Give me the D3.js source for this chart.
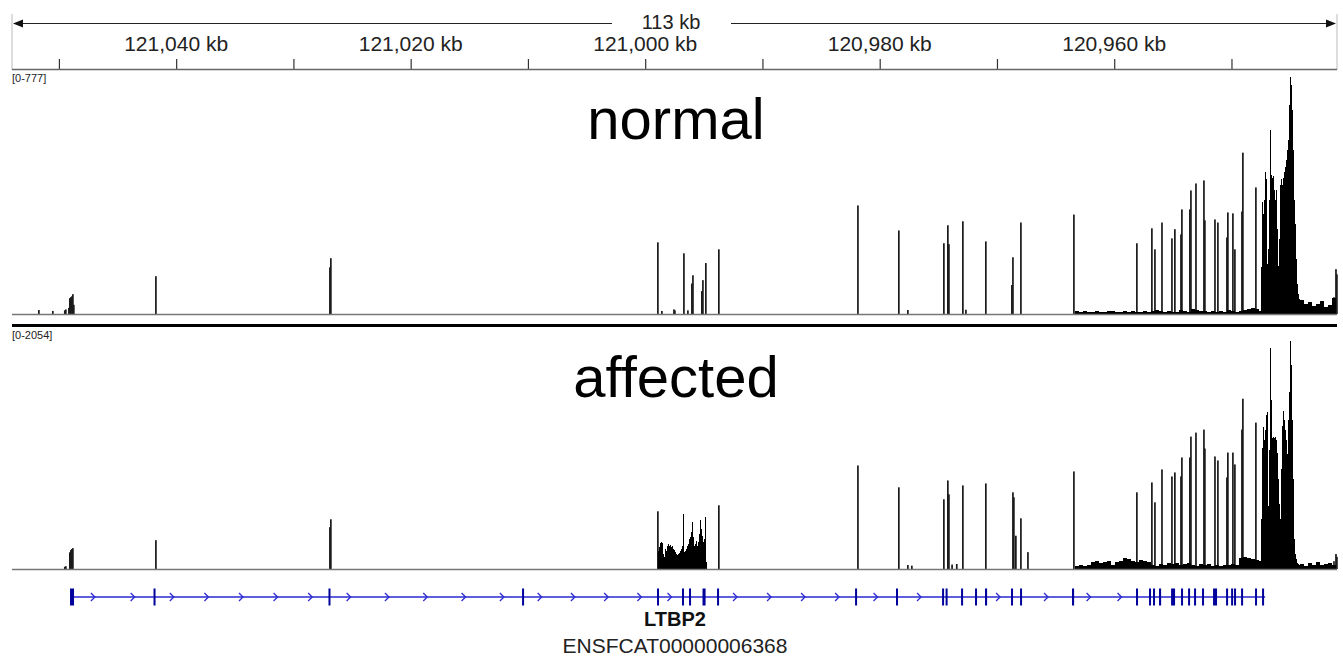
<!DOCTYPE html>
<html>
<head>
<meta charset="utf-8">
<script src="https://cdn.jsdelivr.net/npm/d3@7"></script>
<style>
  html, body { margin: 0; padding: 0; background: #fff; }
  svg { display: block; font-family: "Liberation Sans", Arial, sans-serif; }
</style>
</head>
<body>
<svg id="chart" width="1343" height="656"></svg>
<script>
// locus in kb, shown reversed (coordinates fall from left to right)
const locusStart = 121054.0;
const locusEnd = 120941.0;
const spanLabel = '113 kb';
const tickKb = [121050, 121040, 121030, 121020, 121010, 121000, 120990, 120980, 120970, 120960, 120950];
const labelKb = [121040, 121020, 121000, 120980, 120960];
const labelText = ['121,040 kb', '121,020 kb', '121,000 kb', '120,980 kb', '120,960 kb'];

const binKb = 0.0853;     // coverage bin
const noiseBinKb = 0.3412;

// normal track, autoscale [0-777]
const normalMax = 777;
const normalSpikes = [
  [121051.78, 13], [121050.59, 10], [121049.57, 12], [121049.48, 15],
  [121049.22, 20], [121049.14, 52], [121049.05, 55], [121048.97, 58], [121048.88, 65], [121048.80, 30],
  [121041.80, 124], [121026.96, 153], [121026.88, 183],
  [120998.99, 235], [120998.65, 10], [120997.62, 15], [120997.54, 12], [120996.77, 199], [120996.43, 12],
  [120996.09, 100], [120996.00, 127], [120995.24, 75], [120995.15, 111], [120994.90, 167], [120993.79, 212],
  [120981.93, 356], [120978.44, 274], [120977.67, 13],
  [120974.60, 232], [120974.26, 291], [120974.17, 229], [120972.98, 304], [120972.72, 14], [120971.02, 238],
  [120968.80, 95], [120968.71, 186], [120968.03, 300],
  [120963.51, 326], [120958.14, 232], [120956.86, 281], [120956.60, 212], [120956.00, 300],
  [120955.15, 248], [120954.90, 278], [120954.38, 261], [120954.30, 343],
  [120953.62, 343], [120953.53, 405], [120953.10, 428], [120952.42, 438], [120952.34, 307],
  [120951.48, 310], [120951.23, 300], [120950.46, 251], [120950.38, 333],
  [120949.95, 330], [120949.78, 212], [120949.18, 336], [120949.10, 529], [120947.99, 415],
  [120941.33, 55], [120941.16, 147], [120941.08, 130]
];
const normalPeakStart = 120947.47;
const normalPeak = [153, 366, 327, 375, 464, 441, 163, 212, 375, 604, 457, 447, 451, 408, 375, 408, 278, 157, 245,
  424, 441, 424, 447, 467, 483, 506, 539, 571, 686, 777, 751, 669, 539, 375, 294, 179, 98, 65, 49];
const normalNoiseStart = 120963.34;
const normalNoise = [9, 6, 10, 7, 6, 9, 8, 6, 9, 11, 7, 6, 10, 8, 9, 6, 7, 9, 6, 11, 13, 9, 7, 10, 6,
  8, 12, 9, 7, 16, 13, 10, 9, 7, 11, 6, 9, 8, 12, 9, 7, 10, 13, 16, 19, 15, 11];
const normalTailStart = 120944.15;
const normalTail = [45, 34, 40, 26, 33, 42, 24, 31, 52];

// affected track, autoscale [0-2054]
const affectedMax = 2054;
const affectedSpikes = [
  [121049.57, 20], [121049.48, 25], [121049.14, 150], [121049.05, 170], [121048.97, 180], [121048.88, 188],
  [121041.80, 260], [121026.96, 377], [121026.88, 448],
  [120998.99, 520], [120993.79, 574],
  [120981.93, 933], [120978.44, 736], [120977.67, 36], [120977.33, 30],
  [120974.60, 628], [120974.26, 798], [120974.17, 673], [120973.90, 40], [120973.50, 45],
  [120972.98, 753], [120971.02, 771],
  [120968.71, 691], [120968.63, 646], [120968.46, 300], [120968.03, 457], [120967.43, 152],
  [120963.51, 879], [120958.14, 691], [120956.86, 780], [120956.60, 601], [120956.00, 897],
  [120955.15, 834], [120954.90, 870], [120954.38, 834], [120954.30, 1005],
  [120953.62, 1005], [120953.53, 1193], [120953.10, 1229], [120952.42, 1256], [120952.34, 1085],
  [120951.48, 1014], [120951.23, 978], [120950.46, 825], [120950.38, 1049],
  [120949.95, 1049], [120949.78, 942], [120949.18, 1256], [120949.10, 1534], [120947.99, 1319],
  [120941.33, 70], [120941.16, 135], [120941.08, 110]
];
const affectedExonStart = 120998.90;
const affectedExon = [161, 197, 233, 242, 233, 135, 108, 179, 161, 206, 224, 206, 215, 197, 206, 179, 170, 152,
  135, 126, 135, 144, 161, 179, 206, 493, 152, 161, 179, 206, 224, 269, 287, 332, 422, 287, 206, 224, 251, 206,
  242, 314, 440, 359, 296, 242, 269, 466, 63];
const affectedPeakStart = 120947.47;
const affectedPeak = [448, 1094, 1283, 1166, 1256, 1390, 1417, 565, 1076, 1991, 1525, 1184, 1193, 1184, 1193,
  1166, 1049, 807, 583, 448, 897, 1292, 1426, 1346, 1256, 1166, 1032, 1346, 1597, 2054, 1839, 1346, 807, 269,
  135, 90, 54, 45, 36];
const affectedNoiseStart = 120963.34;
const affectedNoise = [30, 36, 28, 40, 60, 70, 58, 65, 72, 40, 62, 75, 95, 88, 70, 66, 80, 72, 60, 40, 30, 45,
  38, 50, 42, 55, 40, 48, 52, 35, 30, 45, 38, 42, 30, 36, 28, 40, 35, 44, 38, 95, 110, 102, 90, 85, 70];
const affectedTailStart = 120944.15;
const affectedTail = [45, 30, 52, 40, 60, 35, 48, 55, 40];

// LTBP2 transcript
const geneName = 'LTBP2';
const transcriptId = 'ENSFCAT00000006368';
const geneSpan = [120947.13, 121049.05];
const exons = [
  [121048.71, 121049.05], [121041.76, 121041.93], [121026.84, 121027.01], [121010.33, 121010.50],
  [120998.82, 120998.99], [120996.69, 120996.86], [120996.09, 120996.26], [120994.85, 120995.11],
  [120993.70, 120993.87], [120981.93, 120982.10], [120978.44, 120978.61], [120974.51, 120974.68],
  [120974.21, 120974.38], [120972.89, 120973.06], [120971.70, 120971.87], [120970.84, 120971.02],
  [120968.63, 120968.80], [120967.86, 120968.03], [120963.42, 120963.60], [120957.97, 120958.14],
  [120956.86, 120957.03], [120956.52, 120956.69], [120956.00, 120956.18], [120954.81, 120955.15],
  [120954.13, 120954.30], [120953.53, 120953.70], [120953.02, 120953.19], [120952.34, 120952.51],
  [120951.23, 120951.57], [120950.29, 120950.46], [120949.86, 120950.03], [120949.61, 120949.78],
  [120949.01, 120949.18], [120947.82, 120947.99], [120947.22, 120947.39]
];

const svg = d3.select('#chart');
const left = 12, right = 1337;
const x = d3.scaleLinear().domain([locusStart, locusEnd]).range([left, right]);

// ---- ruler ----
const ruler = svg.append('g');
ruler.append('line').attr('x1', left).attr('x2', left).attr('y1', 14).attr('y2', 70)
  .attr('stroke', '#bbb');
ruler.append('line').attr('x1', right).attr('x2', right).attr('y1', 14).attr('y2', 70)
  .attr('stroke', '#bbb');
ruler.append('line').attr('x1', left + 2).attr('x2', 612).attr('y1', 23.5).attr('y2', 23.5)
  .attr('stroke', '#222').attr('stroke-width', 1.2);
ruler.append('line').attr('x1', 731).attr('x2', right - 2).attr('y1', 23.5).attr('y2', 23.5)
  .attr('stroke', '#222').attr('stroke-width', 1.2);
ruler.append('path').attr('d', `M${left + 1},23.5 L${left + 11},19.5 L${left + 11},27.5 Z`).attr('fill', '#111');
ruler.append('path').attr('d', `M${right - 1},23.5 L${right - 11},19.5 L${right - 11},27.5 Z`).attr('fill', '#111');
ruler.append('text').attr('x', 671).attr('y', 29).attr('text-anchor', 'middle')
  .attr('font-size', 20).attr('fill', '#222').text(spanLabel);

const axis = d3.axisBottom(x).tickValues(tickKb).tickSize(10).tickFormat('');
const axisG = ruler.append('g').attr('transform', 'translate(0,59)').call(axis);
axisG.select('.domain').remove();
axisG.selectAll('.tick line').attr('stroke', '#333').attr('stroke-width', 1.2);
ruler.append('line').attr('x1', left).attr('x2', right).attr('y1', 69.5).attr('y2', 69.5)
  .attr('stroke', '#666').attr('stroke-width', 1.5);
ruler.selectAll('text.lab').data(labelKb).join('text').attr('class', 'lab')
  .attr('x', d => x(d)).attr('y', 51).attr('text-anchor', 'middle')
  .attr('font-size', 21).attr('fill', '#222')
  .text((d, i) => labelText[i]);

// ---- coverage tracks ----
function buildBars(spikes, runs) {
  const out = spikes.map(([kb, v]) => ({ kb, w: binKb * 1.7, v, spike: true }));
  runs.forEach(r => r.values.forEach((v, i) => out.push({ kb: r.start - i * r.step, w: r.step, v, spike: false })));
  return out;
}

function drawTrack(bars, max, base, top, rangeLabel, labelY) {
  const y = d3.scaleLinear().domain([0, max]).range([base, top]);
  const g = svg.append('g');
  g.append('text').attr('x', left).attr('y', labelY).attr('font-size', 11).attr('fill', '#222').text(rangeLabel);
  g.selectAll('rect').data(bars).join('rect')
    .attr('x', d => x(d.kb))
    .attr('width', d => x(d.kb - d.w) - x(d.kb))
    .attr('y', d => y(d.v))
    .attr('height', d => base - y(d.v))
    .attr('fill', d => d.spike ? '#1a1a1a' : '#000')
    .attr('shape-rendering', d => d.spike ? 'auto' : 'crispEdges');
  g.append('line').attr('x1', left).attr('x2', right).attr('y1', base + 0.5).attr('y2', base + 0.5)
    .attr('stroke', '#777').attr('stroke-width', 1.3);
}

drawTrack(buildBars(normalSpikes, [
  { start: normalPeakStart, step: binKb, values: normalPeak },
  { start: normalNoiseStart, step: noiseBinKb, values: normalNoise },
  { start: normalTailStart, step: noiseBinKb, values: normalTail }
]), normalMax, 314, 77, '[0-777]', 82);

svg.append('line').attr('x1', left).attr('x2', right).attr('y1', 325.5).attr('y2', 325.5)
  .attr('stroke', '#000').attr('stroke-width', 3);

drawTrack(buildBars(affectedSpikes, [
  { start: affectedExonStart, step: binKb, values: affectedExon },
  { start: affectedPeakStart, step: binKb, values: affectedPeak },
  { start: affectedNoiseStart, step: noiseBinKb, values: affectedNoise },
  { start: affectedTailStart, step: noiseBinKb, values: affectedTail }
]), affectedMax, 569, 341, '[0-2054]', 339);

svg.append('text').attr('x', 676).attr('y', 139).attr('text-anchor', 'middle')
  .attr('font-size', 58).attr('fill', '#000').text('normal');
svg.append('text').attr('x', 676).attr('y', 397).attr('text-anchor', 'middle')
  .attr('font-size', 58).attr('fill', '#000').text('affected');

// ---- gene track ----
const gy = 597;
const gene = svg.append('g');
gene.append('line').attr('x1', x(geneSpan[1])).attr('x2', x(geneSpan[0])).attr('y1', gy).attr('y2', gy)
  .attr('stroke', '#2a2ad2').attr('stroke-width', 1.4);

// strand chevrons in each intron
const exPx = exons.map(([lo, hi]) => [x(hi), x(lo)]).sort((a, b) => a[0] - b[0]);
const chevrons = [];
for (let i = 0; i < exPx.length - 1; i++) {
  const a = exPx[i][1], b = exPx[i + 1][0], gap = b - a;
  if (gap < 14) continue;
  const n = Math.max(1, Math.round(gap / 37));
  for (let k = 0; k < n; k++) chevrons.push(a + gap * (k + 0.5) / n);
}
gene.selectAll('path.chev').data(chevrons).join('path').attr('class', 'chev')
  .attr('d', c => `M${c - 3},${gy - 4} L${c + 1},${gy} L${c - 3},${gy + 4}`)
  .attr('fill', 'none').attr('stroke', '#2a2ad2').attr('stroke-width', 1.3);

gene.selectAll('rect').data(exons).join('rect')
  .attr('x', d => x(d[1]))
  .attr('width', d => Math.max(2, x(d[0]) - x(d[1])))
  .attr('y', gy - 8.5).attr('height', 17)
  .attr('fill', '#00009a');

gene.append('text').attr('x', 675).attr('y', 626).attr('text-anchor', 'middle')
  .attr('font-size', 20).attr('font-weight', 'bold').attr('fill', '#111').text(geneName);
gene.append('text').attr('x', 675).attr('y', 653).attr('text-anchor', 'middle')
  .attr('font-size', 21).attr('fill', '#222').text(transcriptId);
</script>
</body>
</html>
